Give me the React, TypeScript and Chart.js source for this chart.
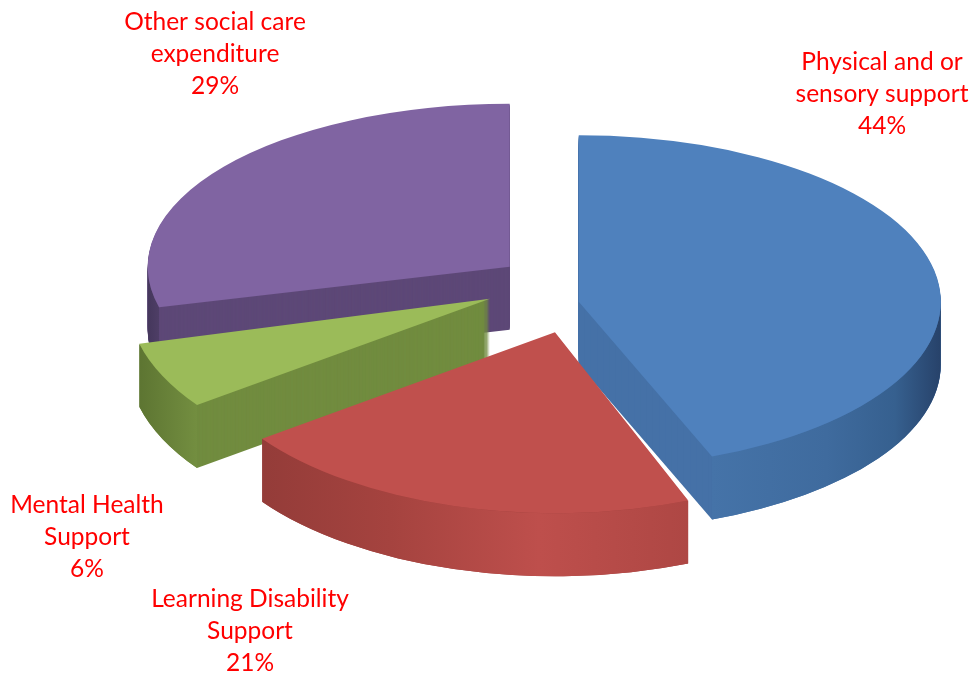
import React, { useEffect, useRef } from "react";
import { Chart, registerables } from "chart.js";

Chart.register(...registerables);

// ---- data ----
const categories = [
  "Physical and or sensory support",
  "Learning Disability Support",
  "Mental Health Support",
  "Other social care expenditure",
];
const labelLines = [
  ["Physical and or", "sensory support"],
  ["Learning Disability", "Support"],
  ["Mental Health", "Support"],
  ["Other social care", "expenditure"],
];
const values = [44, 21, 6, 29];

// ---- style ----
const colors = ["#4F81BD", "#C0504D", "#9BBB59", "#8064A2"];
const cutColors = ["#4571A7", "#A0413E", "#718C3F", "#5D4877"];
const sideStops: [number, string][][] = [
  [[0, "#4573A8"], [0.5, "#3F6B9E"], [0.8, "#36608F"], [1, "#27426A"]],
  [[0, "#943C39"], [0.3, "#A5433F"], [0.65, "#BE4F4C"], [1, "#AE4744"]],
  [[0, "#5D7532"], [1, "#738E40"]],
  [[0, "#45375C"], [1, "#4E3E66"]],
];
const tilt = [0.46, 0.5, 0.5, 0.45];
const explode = [14, 36, 83, 70];
const lift = [7, 19, -15, -10];
const depth = 63;
const labelAnchors = [
  [882, 94],
  [250, 631],
  [87, 537],
  [215, 54],
];
const labelFont = "24.5px Lato";
const lineGap = 32;

const pie3d = {
  id: "pie3d",
  beforeDatasetsDraw(chart: any) {
    const ctx: CanvasRenderingContext2D = chart.ctx;
    const meta = chart.getDatasetMeta(0);
    const geo = meta.data.map((arc: any, i: number) => {
      const p = arc.getProps(["x", "y", "startAngle", "endAngle", "outerRadius"], true);
      const mid = (p.startAngle + p.endAngle) / 2;
      const k = tilt[i];
      const cx = p.x + Math.cos(mid) * explode[i];
      const cy = p.y + Math.sin(mid) * explode[i] * k + lift[i];
      return { i, arc, ...p, k, cx, cy, R: p.outerRadius, ry: p.outerRadius * k };
    });
    const order = [...geo].sort((a: any, b: any) => a.cy - b.cy);
    for (const g of order) {
      // extruded body (cut faces)
      ctx.save();
      ctx.fillStyle = cutColors[g.i];
      for (let s = depth; s >= 1; s--) {
        ctx.beginPath();
        ctx.moveTo(g.cx, g.cy + s);
        ctx.ellipse(g.cx, g.cy + s, g.R, g.ry, 0, g.startAngle, g.endAngle);
        ctx.closePath();
        ctx.fill();
      }
      // outer curved side
      const a1 = Math.max(g.startAngle, 0);
      const a2 = Math.min(g.endAngle, Math.PI);
      if (a2 > a1) {
        const xA = g.cx + g.R * Math.cos(a1);
        const xB = g.cx + g.R * Math.cos(a2);
        const grad = ctx.createLinearGradient(Math.min(xA, xB), 0, Math.max(xA, xB), 0);
        for (const [o, c] of sideStops[g.i]) grad.addColorStop(o, c);
        ctx.beginPath();
        ctx.ellipse(g.cx, g.cy, g.R, g.ry, 0, a1, a2);
        ctx.lineTo(g.cx + g.R * Math.cos(a2), g.cy + g.ry * Math.sin(a2) + depth);
        ctx.ellipse(g.cx, g.cy + depth, g.R, g.ry, 0, a2, a1, true);
        ctx.closePath();
        ctx.fillStyle = grad;
        ctx.fill();
      }
      ctx.restore();
      // top face drawn by the library's arc element
      ctx.save();
      ctx.translate(g.cx - g.x, g.cy);
      ctx.scale(1, g.k);
      ctx.translate(0, -g.y);
      g.arc.draw(ctx);
      ctx.restore();
    }
    return false;
  },
  afterDraw(chart: any) {
    const ctx: CanvasRenderingContext2D = chart.ctx;
    const total = values.reduce((a, b) => a + b, 0);
    ctx.save();
    ctx.fillStyle = "#FF0000";
    ctx.font = labelFont;
    ctx.textAlign = "center";
    ctx.textBaseline = "middle";
    labelLines.forEach((lines, i) => {
      const all = [...lines, Math.round((values[i] / total) * 100) + "%"];
      const [ax, ay] = labelAnchors[i];
      all.forEach((t, j) => {
        ctx.fillText(t, ax, ay + (j - (all.length - 1) / 2) * lineGap);
      });
    });
    ctx.restore();
  },
};

export default function App() {
  const ref = useRef<HTMLCanvasElement | null>(null);
  useEffect(() => {
    if (!ref.current) return;
    const chart = new Chart(ref.current, {
      type: "pie",
      data: {
        labels: categories,
        datasets: [
          {
            data: values,
            backgroundColor: colors,
            borderWidth: 0,
            offset: 0,
            hoverOffset: 0,
            radius: 362,
          } as any,
        ],
      },
      options: {
        responsive: false,
        animation: false,
        events: [],
        layout: { padding: { left: 156, right: 0, top: 0, bottom: 83 } },
        plugins: { legend: { display: false }, tooltip: { enabled: false } },
      } as any,
      plugins: [pie3d as any],
    });
    return () => chart.destroy();
  }, []);
  return (
    <div style={{ position: "absolute", left: 0, top: 0, width: 974, height: 675, background: "#fff" }}>
      <canvas ref={ref} width={974} height={675} style={{ display: "block" }} />
    </div>
  );
}
